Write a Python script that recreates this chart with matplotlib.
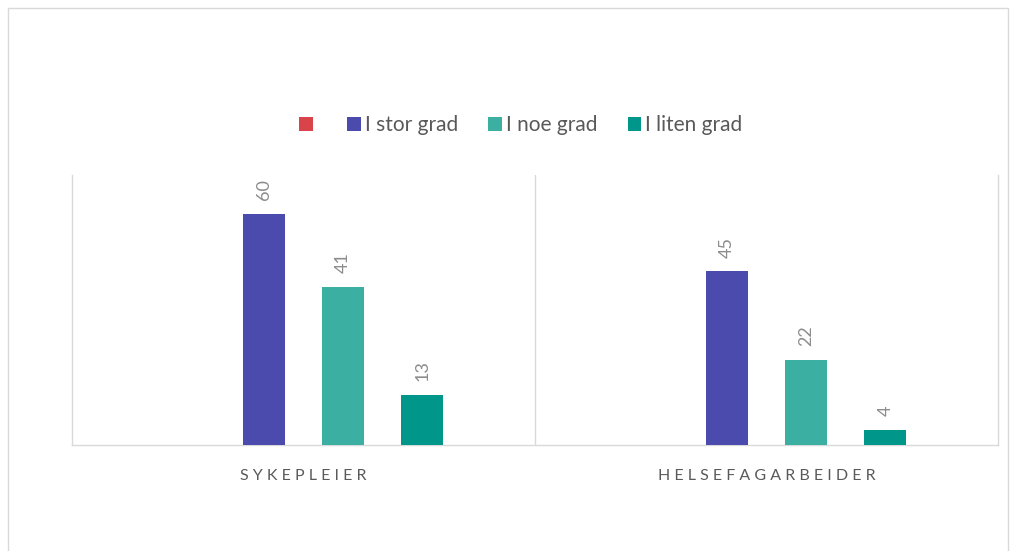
import numpy as np
import matplotlib.pyplot as plt
from matplotlib.patches import Rectangle, Patch

# data
categories = ["SYKEPLEIER", "HELSEFAGARBEIDER"]
series_names = ["", "I stor grad", "I noe grad", "I liten grad"]
values = [
    [np.nan, np.nan],   # first series: no values
    [60, 45],
    [41, 22],
    [13, 4],
]
colors = ["#D9434A", "#4B4BAE", "#3CAFA3", "#00968A"]

plt.rcParams["font.family"] = ["Lato", "DejaVu Sans"]

fig = plt.figure(figsize=(10.12, 5.51), dpi=100)
ax = fig.add_axes([72 / 1012, 1 - 445 / 551, 926 / 1012, 270 / 551])

# outer chart border
fig.patches.append(Rectangle((8 / 1012, -0.01), 1000 / 1012, 1 - 8 / 551 + 0.01,
                             transform=fig.transFigure, fill=False,
                             edgecolor="#d9d9d9", linewidth=1))

x = np.arange(len(categories))
slot = 79 / 462
width = 42 / 462
n = len(series_names)

for i, (name, vals, col) in enumerate(zip(series_names, values, colors)):
    pos = x + (i - (n - 1) / 2) * slot
    ax.bar(pos, vals, width=width, color=col, zorder=3)
    for p, v in zip(pos, vals):
        if np.isnan(v):
            continue
        ax.annotate(f"{v:g}", (p, v), xytext=(0, 10), textcoords="offset points",
                    rotation=90, ha="center", va="bottom", fontsize=13,
                    color="#8c8c8c")

ax.set_xlim(-0.5, 1.5)
ax.set_ylim(0, 70)
ax.set_yticks([])
ax.set_xticks(x)
ax.set_xticklabels([" ".join(c) for c in categories], fontsize=11.5, color="#595959")
ax.tick_params(axis="x", length=0, pad=17)

for s in ["left", "right", "bottom"]:
    ax.spines[s].set_color("#d9d9d9")
    ax.spines[s].set_linewidth(1)
ax.spines["top"].set_visible(False)
ax.axvline(0.5, color="#d9d9d9", linewidth=1)

handles = [Patch(facecolor=c, edgecolor="none") for c in colors]
fig.legend(handles, series_names, loc="center", bbox_to_anchor=(521 / 1012, 1 - 125 / 551),
           ncol=4, frameon=False, fontsize=15, labelcolor="#595959",
           handlelength=0.65, handleheight=0.65, handletextpad=0.2, columnspacing=1.45)

fig.savefig("out.png", dpi=100)
